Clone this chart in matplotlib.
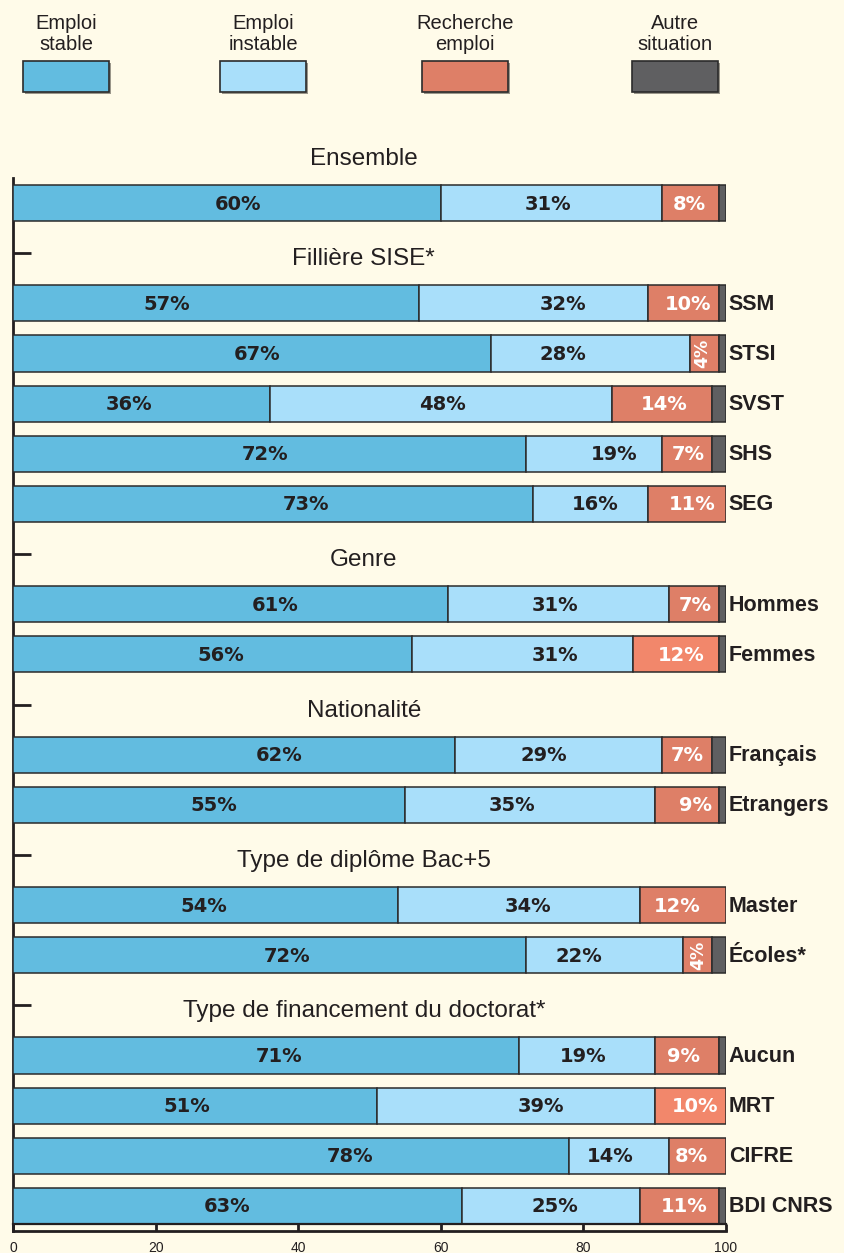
#!/usr/bin/env python3
"""
Situation professionnelle des docteurs : barres empilées à 100 %.
Sortie : out.png (844x1253)
"""

import matplotlib
matplotlib.use("Agg")
import matplotlib.pyplot as plt
from matplotlib.patches import Rectangle

plt.rcParams["font.family"] = ["Liberation Sans", "DejaVu Sans"]

BG = "#fffbe9"
INK = "#231f20"
C_STABLE = "#62bce0"
C_INSTABLE = "#a9dffa"
C_RECH = "#de7f67"
C_RECH_VIF = "#f2876b"
C_AUTRE = "#5f5f61"

# -----------------------
# Data (percent)
# -----------------------
SERIES = ["Emploi\nstable", "Emploi\ninstable", "Recherche\nemploi", "Autre\nsituation"]

GROUP_TITLES = ["Ensemble", "Fillière SISE*", "Genre", "Nationalité",
                "Type de diplôme Bac+5", "Type de financement du doctorat*"]
GROUP_SIZES = [1, 5, 2, 2, 2, 4]

ROW_LABELS = ["", "SSM", "STSI", "SVST", "SHS", "SEG", "Hommes", "Femmes",
              "Français", "Etrangers", "Master", "Écoles*", "Aucun", "MRT",
              "CIFRE", "BDI CNRS"]
STABLE = [60, 57, 67, 36, 72, 73, 61, 56, 62, 55, 54, 72, 71, 51, 78, 63]
INSTABLE = [31, 32, 28, 48, 19, 16, 31, 31, 29, 35, 34, 22, 19, 39, 14, 25]
RECHERCHE = [8, 10, 4, 14, 7, 11, 7, 12, 7, 9, 12, 4, 9, 10, 8, 11]
AUTRE = [1, 1, 1, 2, 2, 0, 1, 1, 2, 1, 0, 2, 1, 0, 0, 1]

# label placement (x in data units), as laid out in the original
LBL_X_STABLE = [31.6, 21.6, 34.2, 16.3, 35.3, 41.1, 36.7, 29.2,
                37.3, 28.2, 26.8, 38.4, 37.3, 24.4, 47.3, 30.0]
LBL_X_INSTABLE = [75.0, 77.1, 77.1, 60.2, 84.3, 81.6, 76.0, 76.0,
                  74.5, 70.0, 72.2, 79.4, 79.9, 74.1, 83.7, 76.0]
LBL_X_RECH = [94.8, 94.7, 96.7, 91.4, 94.7, 95.2, 95.7, 93.7,
              94.5, 95.7, 93.1, 96.1, 94.1, 95.7, 95.2, 94.1]
VIF_ROWS = ["Femmes", "MRT"]


def compute_slots():
    headers, rows = [], []
    s = -1
    for n in GROUP_SIZES:
        headers.append(s)
        rows.extend(range(s + 1, s + 1 + n))
        s += n + 1
    return headers, rows


def main() -> None:
    fig = plt.figure(figsize=(8.44, 12.53), dpi=100, facecolor=BG)
    W, H = 844, 1253
    ax = fig.add_axes([13 / W, 1 - 1231 / H, 713 / W, (1231 - 178) / H])
    ax.set_facecolor(BG)

    header_slots, row_slots = compute_slots()
    h = 0.72
    bar_kw = dict(height=h, edgecolor="#2b2b2b", linewidth=1.1, zorder=3)

    left = [0] * len(STABLE)
    ax.barh(row_slots, STABLE, left=left, color=C_STABLE, **bar_kw)
    left = [a for a in STABLE]
    ax.barh(row_slots, INSTABLE, left=left, color=C_INSTABLE, **bar_kw)
    left = [a + b for a, b in zip(STABLE, INSTABLE)]
    rech_colors = [C_RECH_VIF if lab in VIF_ROWS else C_RECH for lab in ROW_LABELS]
    ax.barh(row_slots, RECHERCHE, left=left, color=rech_colors, **bar_kw)
    left = [a + b + c for a, b, c in zip(STABLE, INSTABLE, RECHERCHE)]
    for y, l, v in zip(row_slots, left, AUTRE):
        if v > 0:
            ax.barh(y, v, left=l, color=C_AUTRE, **bar_kw)

    lab_kw = dict(family=["DejaVu Sans"], fontweight="bold", fontsize=14,
                  va="center", ha="center", zorder=5)
    for i, y in enumerate(row_slots):
        ax.text(LBL_X_STABLE[i], y + 0.02, f"{STABLE[i]}%", color=INK, **lab_kw)
        ax.text(LBL_X_INSTABLE[i], y + 0.02, f"{INSTABLE[i]}%", color=INK, **lab_kw)
        if RECHERCHE[i] < 5:
            ax.text(LBL_X_RECH[i], y, f"{RECHERCHE[i]}%", color="white",
                    rotation=90, family=["DejaVu Sans"], fontweight="bold",
                    fontsize=12.5, va="center", ha="center", zorder=5)
        else:
            ax.text(LBL_X_RECH[i], y + 0.02, f"{RECHERCHE[i]}%", color="white", **lab_kw)
        if ROW_LABELS[i]:
            ax.text(100.4, y + 0.02, ROW_LABELS[i], color=INK, fontsize=15.5,
                    fontweight="bold", ha="left", va="center", clip_on=False)

    # group titles and small ticks on the left axis
    for title, s in zip(GROUP_TITLES, header_slots):
        ax.text(49.2, s + 0.12, title, fontsize=17.5, color=INK,
                ha="center", va="center", clip_on=False)
        if s >= 0:
            ax.plot([0, 2.5], [s, s], color=INK, lw=2, zorder=4,
                    solid_capstyle="butt")

    # ruler-like bottom axis
    ax.set_xlim(0, 100)
    ax.set_ylim(20.5, -0.5)
    ax.plot([0, 100], [20.36, 20.36], color=INK, lw=1.6, zorder=4, clip_on=False)
    ax.set_xticks([0, 20, 40, 60, 80, 100])
    ax.tick_params(axis="x", direction="in", length=5, width=2, color=INK,
                   labelsize=10, labelcolor=INK, pad=7)
    ax.tick_params(axis="y", left=False, labelleft=False)
    for side in ("top", "right"):
        ax.spines[side].set_visible(False)
    for side in ("left", "bottom"):
        ax.spines[side].set_linewidth(2)
        ax.spines[side].set_color(INK)

    # legend drawn in pixel space above the chart
    leg = fig.add_axes([0, 0, 1, 1], facecolor="none")
    leg.set_xlim(0, W)
    leg.set_ylim(H, 0)
    leg.axis("off")
    box_left = [23, 220, 422, 632]
    colors = [C_STABLE, C_INSTABLE, C_RECH, C_AUTRE]
    for x0, col, name in zip(box_left, colors, SERIES):
        leg.add_patch(Rectangle((x0 + 2, 63), 86, 31, facecolor="#9a968a",
                                edgecolor="none", zorder=1))
        leg.add_patch(Rectangle((x0, 61), 86, 31, facecolor=col,
                                edgecolor="#2b2b2b", linewidth=1.2, zorder=2))
        leg.text(x0 + 43, 34, name, fontsize=14.5, color=INK, ha="center",
                 va="center", linespacing=1.1)

    fig.savefig("out.png", dpi=100, facecolor=BG)
    plt.close(fig)


if __name__ == "__main__":
    main()
